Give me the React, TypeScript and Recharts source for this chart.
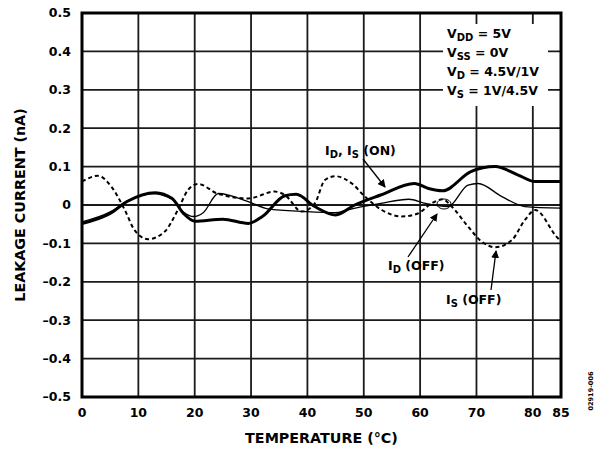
import { LineChart, Line, XAxis, YAxis, CartesianGrid, ReferenceArea, Label } from "recharts";

// I_D, I_S (ON) — heavy solid line
const ON_TEMPS = [0, 5, 8, 13, 16, 18, 20, 25, 29.5, 32, 36, 38, 41.3, 45, 48.4, 53, 59, 61.5, 64, 69, 73.3, 77.4, 80.4, 85];
const ON_LEAK = [-0.048, -0.022, 0.009, 0.032, 0.017, -0.022, -0.042, -0.037, -0.048, -0.03, 0.024, 0.028, -0.004, -0.026, 0.0, 0.026, 0.056, 0.043, 0.037, 0.087, 0.1, 0.078, 0.061, 0.061];

// I_D (OFF) — thin solid line
const ID_OFF_TEMPS = [0, 5, 8, 12.5, 16, 18, 19.8, 21.5, 24.2, 29.5, 33, 39.5, 45, 47, 53, 58, 61, 65, 68.5, 70.3, 74.5, 78.6, 85];
const ID_OFF_LEAK = [-0.044, -0.018, 0.01, 0.03, 0.015, -0.018, -0.03, -0.02, 0.03, 0.009, -0.01, -0.017, -0.02, -0.013, 0.004, 0.015, 0.004, -0.004, 0.052, 0.056, 0.022, -0.004, -0.008];

// I_S (OFF) — dashed line
const IS_OFF_TEMPS = [0, 2.8, 5.2, 7.6, 9.3, 11.7, 14.7, 17, 18.8, 20.6, 24, 29.5, 34.2, 36, 39, 41.3, 43.1, 44.9, 47.9, 50.2, 53.2, 56.7, 59.6, 62, 64, 65.6, 68.5, 70.9, 73.3, 76.3, 78.6, 80.4, 84.5, 85];
const IS_OFF_LEAK = [0.061, 0.076, 0.048, -0.013, -0.065, -0.089, -0.069, -0.013, 0.039, 0.055, 0.03, 0.017, 0.035, 0.026, -0.017, 0.004, 0.065, 0.075, 0.056, 0.022, -0.013, -0.03, -0.022, 0.004, 0.015, -0.004, -0.056, -0.095, -0.11, -0.091, -0.039, -0.013, -0.087, -0.093];

const X_TICKS = [0, 10, 20, 30, 40, 50, 60, 70, 80, 85];
const Y_TICKS = [-0.5, -0.4, -0.3, -0.2, -0.1, 0, 0.1, 0.2, 0.3, 0.4, 0.5];

const FONT = "DejaVu Sans";

const toRows = (ts: number[], vs: number[]) => ts.map((t, i) => ({ t, v: vs[i] }));
const onData = toRows(ON_TEMPS, ON_LEAK);
const idOffData = toRows(ID_OFF_TEMPS, ID_OFF_LEAK);
const isOffData = toRows(IS_OFF_TEMPS, IS_OFF_LEAK);

const fmtY = (v: number) => {
  if (Math.round(v * 10) === 0) return "0";
  return v < 0 ? "\u2013" + Math.abs(v).toFixed(1) : v.toFixed(1);
};

const tickStyle = { fill: "#000", fontSize: 12.5, fontWeight: 700, fontFamily: FONT };
const txt = { fontFamily: FONT, fontWeight: 700, fontSize: 12.5, fill: "#000" } as const;

function Sub({ children }: { children: string }) {
  return (
    <tspan fontSize={10} dy={3}>
      {children}
    </tspan>
  );
}

function Overlay() {
  return (
    <svg width={600} height={452} style={{ position: "absolute", left: 0, top: 0, pointerEvents: "none" }}>
      <defs>
        <marker id="ah" markerWidth="8" markerHeight="8" refX="7" refY="4" orient="auto" markerUnits="userSpaceOnUse">
          <path d="M0,0 L8,4 L0,8 Z" fill="#000" />
        </marker>
      </defs>
      {/* condition box */}
      <rect x={443} y={24} width={105} height={82} fill="#fff" />
      <text {...txt} x={447} y={38}>V<Sub>DD</Sub><tspan dy={-3}> = 5V</tspan></text>
      <text {...txt} x={447} y={57}>V<Sub>SS</Sub><tspan dy={-3}> = 0V</tspan></text>
      <text {...txt} x={447} y={76}>V<Sub>D</Sub><tspan dy={-3}> = 4.5V/1V</tspan></text>
      <text {...txt} x={447} y={95}>V<Sub>S</Sub><tspan dy={-3}> = 1V/4.5V</tspan></text>

      {/* series callouts */}
      <text {...txt} x={325} y={155}>I<Sub>D</Sub><tspan dy={-3}>, I</tspan><Sub>S</Sub><tspan dy={-3}> (ON)</tspan></text>
      <line x1={363} y1={159} x2={385} y2={187} stroke="#000" strokeWidth={1.3} markerEnd="url(#ah)" />

      <text {...txt} x={388} y={270}>I<Sub>D</Sub><tspan dy={-3}> (OFF)</tspan></text>
      <line x1={408} y1={257} x2={437} y2={214} stroke="#000" strokeWidth={1.3} markerEnd="url(#ah)" />
      <ellipse cx={444} cy={204} rx={7} ry={5} fill="none" stroke="#000" strokeWidth={1} />

      <text {...txt} x={446} y={304}>I<Sub>S</Sub><tspan dy={-3}> (OFF)</tspan></text>
      <line x1={491} y1={290} x2={496} y2={251} stroke="#000" strokeWidth={1.3} markerEnd="url(#ah)" />

      <text x={593} y={391} fontFamily={FONT} fontSize={6.5} fontWeight={700} fill="#000" textAnchor="middle" transform="rotate(-90 593 391)">
        02919-006
      </text>
    </svg>
  );
}

export default function App() {
  return (
    <div style={{ position: "absolute", left: 0, top: 0, width: 600, height: 452, background: "#fff" }}>
      <LineChart width={600} height={452} margin={{ top: 13, right: 39, left: 0, bottom: 0 }}>
        <CartesianGrid stroke="#1a1a1a" strokeWidth={1.8} />
        <XAxis
          type="number"
          dataKey="t"
          domain={[0, 85]}
          ticks={X_TICKS}
          interval={0}
          height={55}
          axisLine={false}
          tickLine={false}
          tickSize={0}
          tickMargin={11}
          tick={tickStyle}
        >
          <Label
            value="TEMPERATURE (°C)"
            position="insideBottom"
            offset={9}
            style={{ fontFamily: FONT, fontWeight: 700, fontSize: 14.3, fill: "#000" }}
          />
        </XAxis>
        <YAxis
          type="number"
          domain={[-0.5, 0.5]}
          ticks={Y_TICKS}
          interval={0}
          width={82}
          axisLine={false}
          tickLine={false}
          tickSize={0}
          tickMargin={11}
          tickFormatter={fmtY}
          tick={tickStyle}
        >
          <Label
            value="LEAKAGE CURRENT (nA)"
            angle={-90}
            position="insideLeft"
            offset={20}
            style={{ fontFamily: FONT, fontWeight: 700, fontSize: 14.3, fill: "#000", textAnchor: "middle" }}
          />
        </YAxis>
        <ReferenceArea x1={0} x2={85} y1={-0.5} y2={0.5} fill="none" stroke="#000" strokeWidth={3} />
        <Line data={isOffData} dataKey="v" type="monotone" stroke="#000" strokeWidth={2} strokeDasharray="4 3" dot={false} activeDot={false} isAnimationActive={false} />
        <Line data={idOffData} dataKey="v" type="monotone" stroke="#000" strokeWidth={1.3} dot={false} activeDot={false} isAnimationActive={false} />
        <Line data={onData} dataKey="v" type="monotone" stroke="#000" strokeWidth={3} dot={false} activeDot={false} isAnimationActive={false} />
      </LineChart>
      <Overlay />
    </div>
  );
}
